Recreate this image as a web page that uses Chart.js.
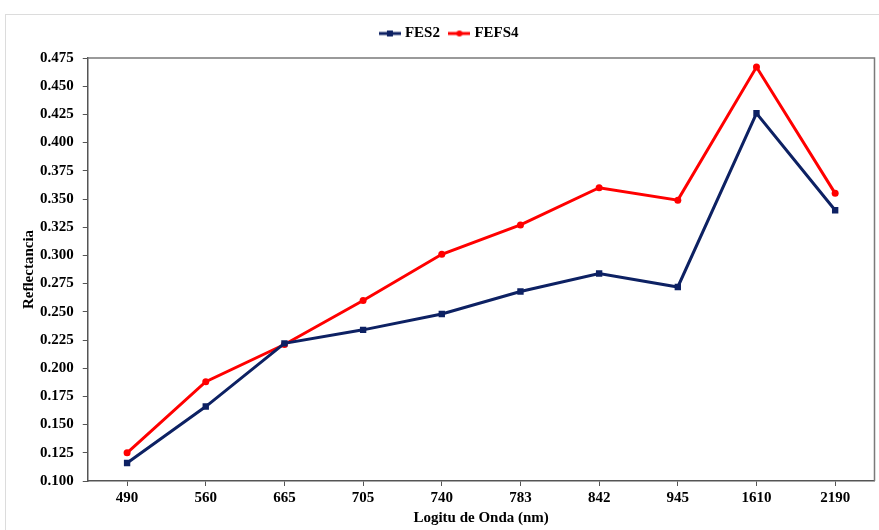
<!DOCTYPE html>
<html>
<head>
<meta charset="utf-8">
<script src="https://cdn.jsdelivr.net/npm/chart.js@4.4.1/dist/chart.umd.min.js"></script>
<style>
  html, body { margin: 0; padding: 0; background: #fff; }
  #wrap { position: relative; width: 879px; height: 530px; }
  #frame { position: absolute; left: 5px; top: 14px; right: 0; bottom: 0;
           border-left: 1px solid #dcdcdc; border-top: 1px solid #dcdcdc; }
  canvas { position: absolute; left: 0; top: 0; }
</style>
</head>
<body>
<div id="wrap">
  <div id="frame"></div>
  <canvas id="chart" width="879" height="530"></canvas>
</div>
<script>
// wavelengths (category labels)
const wavelengths = ['490', '560', '665', '705', '740', '783', '842', '945', '1610', '2190'];

// reflectance
const fes2 = [0.116, 0.166, 0.222, 0.234, 0.248, 0.268, 0.284, 0.272, 0.426, 0.340];
const fefs4 = [0.125, 0.188, 0.221, 0.260, 0.301, 0.327, 0.360, 0.349, 0.467, 0.355];

const navy = '#0d2163';
const red = '#ff0000';

// little legend swatch: line with the marker in the middle
function swatch(color, square) {
    const c = document.createElement('canvas');
    c.width = 22; c.height = 8;
    const ctx = c.getContext('2d');
    ctx.strokeStyle = color;
    ctx.lineWidth = 3;
    ctx.beginPath();
    ctx.moveTo(0, 4); ctx.lineTo(22, 4);
    ctx.stroke();
    ctx.fillStyle = color;
    if (square) {
        ctx.fillRect(8, 1, 6, 6);
    } else {
        ctx.beginPath();
        ctx.arc(11, 4, 3, 0, Math.PI * 2);
        ctx.fill();
    }
    return c;
}

// gray box on top / right of the plot
const plotBox = {
    id: 'plotBox',
    afterDraw(chart) {
        const a = chart.chartArea;
        const ctx = chart.ctx;
        ctx.save();
        ctx.strokeStyle = '#7a7a7a';
        ctx.lineWidth = 1.5;
        ctx.beginPath();
        ctx.moveTo(a.left, a.top);
        ctx.lineTo(a.right, a.top);
        ctx.lineTo(a.right, a.bottom);
        ctx.stroke();
        ctx.restore();
    }
};

// a bit more room under the legend
const legendSpace = {
    id: 'legendSpace',
    beforeInit(chart) {
        const fit = chart.legend.fit;
        chart.legend.fit = function () {
            fit.bind(chart.legend)();
            this.height += 7;
        };
    }
};

const fontBold = { family: '"Liberation Serif", "Times New Roman", serif', weight: 'bold', size: 15 };
const fontTight = Object.assign({}, fontBold, { lineHeight: 1 });

new Chart(document.getElementById('chart'), {
    type: 'line',
    data: {
        labels: wavelengths,
        datasets: [{
            label: 'FES2',
            data: fes2,
            borderColor: navy,
            backgroundColor: navy,
            borderWidth: 3,
            pointStyle: 'rect',
            pointRadius: 4.5,
            pointBorderWidth: 0,
            tension: 0
        }, {
            label: 'FEFS4',
            data: fefs4,
            borderColor: red,
            backgroundColor: red,
            borderWidth: 3,
            pointStyle: 'circle',
            pointRadius: 3.5,
            pointBorderWidth: 0,
            tension: 0
        }]
    },
    options: {
        responsive: false,
        animation: false,
        layout: { padding: { left: 22, right: 0, top: 14, bottom: 4 } },
        scales: {
            x: {
                offset: true,
                grid: { display: true, drawOnChartArea: false, offset: false, tickLength: 5, color: '#555' },
                border: { color: '#555', width: 1.5 },
                ticks: { color: '#000', font: fontTight, maxRotation: 0, padding: 5 },
                title: { display: true, text: 'Logitu de Onda (nm)', color: '#000', font: fontTight, padding: { top: 0, bottom: 0 } }
            },
            y: {
                min: 0.1,
                max: 0.475,
                ticks: { stepSize: 0.025, color: '#000', font: fontBold, padding: 9,
                         callback: v => v.toFixed(3) },
                grid: { display: true, drawOnChartArea: false, tickLength: 5, color: '#555' },
                border: { color: '#555', width: 1.5 },
                title: { display: true, text: 'Reflectancia', color: '#000', font: fontTight, padding: { top: 0, bottom: -6 } }
            }
        },
        plugins: {
            legend: {
                position: 'top',
                labels: {
                    color: '#000',
                    font: fontBold,
                    usePointStyle: true,
                    boxHeight: 8,
                    padding: 12,
                    generateLabels: chart => chart.data.datasets.map((ds, i) => ({
                        text: ds.label,
                        pointStyle: swatch(ds.borderColor, i === 0),
                        fontColor: '#000',
                        lineWidth: 0,
                        strokeStyle: 'transparent',
                        fillStyle: ds.borderColor,
                        datasetIndex: i
                    }))
                }
            },
            tooltip: { enabled: false }
        }
    },
    plugins: [plotBox, legendSpace]
});
</script>
</body>
</html>
